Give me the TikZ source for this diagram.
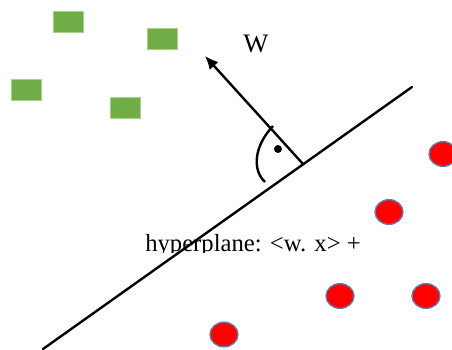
\documentclass[tikz,border=0pt]{standalone}
\usepackage{fontspec}
\setmainfont{Liberation Serif}
\usetikzlibrary{arrows.meta,shapes.geometric}
\definecolor{leafgreen}{HTML}{70AD47}
\definecolor{leafedge}{HTML}{A9D18E}
\definecolor{dotred}{HTML}{FF0000}
\definecolor{dotedge}{HTML}{5A7FA8}

\begin{document}
\begin{tikzpicture}[x=0.75pt,y=-0.75pt,
  sqpt/.style={rectangle, fill=leafgreen, draw=leafedge, line width=0.6pt, minimum width=22.5pt, minimum height=15.75pt, inner sep=0pt},
  rdpt/.style={ellipse, fill=dotred, draw=dotedge, line width=1pt, minimum width=21pt, minimum height=18.5pt, inner sep=0pt},
  thickline/.style={line width=1.8pt}]
\useasboundingbox (0,0) rectangle (452,349);
% class one (green)
\node[sqpt] (s1) at (68,21.5) {};
\node[sqpt] (s2) at (162,38.5) {};
\node[sqpt] (s3) at (26,89.5) {};
\node[sqpt] (s4) at (125,107.5) {};
% class two (red)
\node[rdpt] (c1) at (443,154) {};
\node[rdpt] (c2) at (389,212) {};
\node[rdpt] (c3) at (340,296) {};
\node[rdpt] (c4) at (426,296) {};
\node[rdpt] (c5) at (224,334.5) {};
% label, bottom cut off as in the source
\begin{scope}
\clip (130,220) rectangle (380,252.5);
\node[anchor=base west, inner sep=0pt, font=\fontsize{18.5}{20}\selectfont] (hyp) at (145,251) {hyperplane: <w. x> +};
\end{scope}
% hyperplane and normal vector
\coordinate (hl) at (43,349);
\coordinate (hr) at (412,87);
\coordinate (foot) at (303,164);
\coordinate (wtip) at (205,56);
\draw[thickline, line cap=round] (hl) -- (hr);
\draw[thickline, -{Latex[length=10pt,width=9pt]}] (foot) -- (wtip);
\node[font=\fontsize{20}{22}\selectfont] (wlab) at (256,44) {W};
% right angle mark
\draw[thickline] (273,126) .. controls (254,146) and (252,170) .. (265,182);
\node[circle, fill=black, minimum size=6pt, inner sep=0pt] (rdot) at (278,149) {};
\end{tikzpicture}
\end{document}
